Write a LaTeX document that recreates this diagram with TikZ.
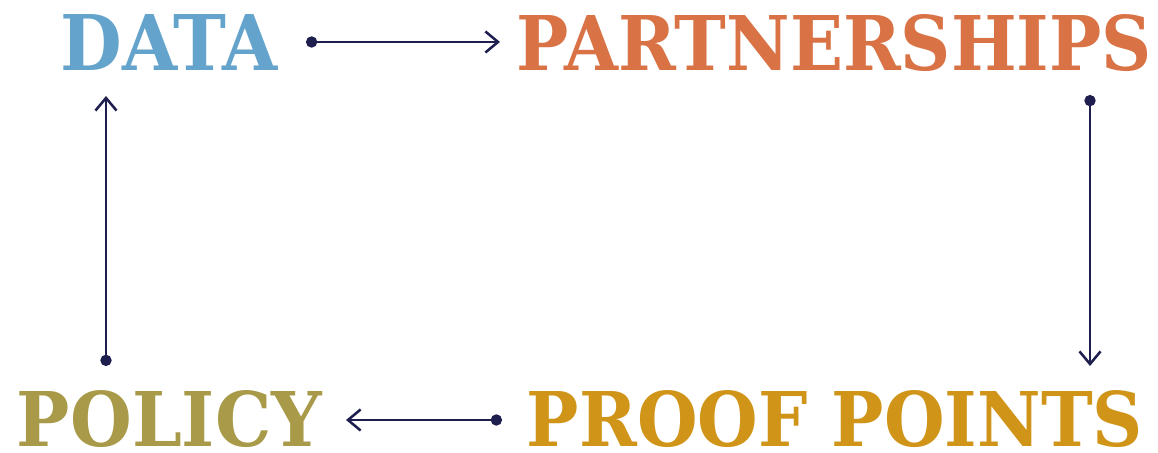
\documentclass[tikz,border=0pt]{standalone}
\usepackage{fontspec}
\setmainfont{DejaVu Serif}
\usepackage{graphicx}
\usetikzlibrary{arrows.meta}

\definecolor{datablue}{HTML}{64A4CC}
\definecolor{partorange}{HTML}{D97245}
\definecolor{proofgold}{HTML}{D09418}
\definecolor{policyolive}{HTML}{A89A48}
\definecolor{linknavy}{HTML}{1F1F4F}

\newcommand{\bigword}[2]{\resizebox{#1}{1.4cm}{\bfseries #2}}

\tikzset{
	word/.style={inner sep=0pt,anchor=center},
	link/.style={draw=linknavy,line width=1.8pt,{Circle[length=8pt]}-{Straight Barb[length=9pt,width=15pt]}}
}

\begin{document}
\begin{tikzpicture}
	\useasboundingbox (0,0) rectangle (28.95,11.325);

	\node[word,text=datablue] (data) at (4.2375,10.25) {\bigword{5.425cm}{DATA}};
	\node[word,text=partorange] (partners) at (20.8625,10.25) {\bigword{15.875cm}{PARTNERSHIPS}};
	\node[word,text=proofgold] (proof) at (20.875,0.85) {\bigword{15.4cm}{PROOF POINTS}};
	\node[word,text=policyolive] (policy) at (4.2375,0.85) {\bigword{7.625cm}{POLICY}};

	% ends of the four links
	\coordinate (dataout) at (7.65,10.275);
	\coordinate (partin) at (12.5,10.275);
	\coordinate (partout) at (27.25,8.95);
	\coordinate (proofin) at (27.25,2.175);
	\coordinate (proofout) at (12.55,0.825);
	\coordinate (policyin) at (8.65,0.825);
	\coordinate (policyout) at (2.65,2.175);
	\coordinate (datain) at (2.65,8.925);

	\draw[link] (dataout) -- (partin);
	\draw[link] (partout) -- (proofin);
	\draw[link] (proofout) -- (policyin);
	\draw[link] (policyout) -- (datain);
\end{tikzpicture}
\end{document}
